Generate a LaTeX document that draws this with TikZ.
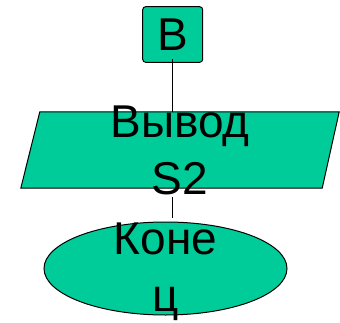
\documentclass[tikz,border=0pt]{standalone}
\usepackage{fontspec}
\setmainfont{Liberation Sans}
\definecolor{grn}{RGB}{0,204,153}
\usetikzlibrary{shapes.geometric}
\tikzset{
  blk/.style={draw=black, fill=grn, line width=1pt, inner sep=0pt},
  big/.style={font=\fontsize{46}{57}\selectfont, align=center}
}
\begin{document}
\begin{tikzpicture}[x=1pt,y=1pt]
        \useasboundingbox (0,0) rectangle (340,322);

        \node[blk, big, rounded corners=3pt, minimum width=60pt, minimum height=55.6pt] (B) at (172.7,287.5) {B};

        % frame of the output block, slanted by hand
        \node[inner sep=0pt, minimum width=318pt, minimum height=76pt] (out) at (180,172) {};
        \draw[blk] ([xshift=19pt]out.north west) -- (out.north east)
              -- ([xshift=-17pt]out.south east) -- (out.south west) -- cycle;
        \node[big] (outt) at (out.center) {Вывод\\S2};

        \node[blk, ellipse, minimum width=243pt, minimum height=93pt] (fin) at (165.5,53.5) {};
        \node[big, yshift=-3pt] (fint) at (fin.center) {Коне\\ц};

        \draw[line width=1pt] ([yshift=4pt]B.south) -- (B.south |- out.north);
        \draw[line width=1pt] ([yshift=-9pt]B.south |- out.south) -- ([yshift=4pt]B.south |- fin.north);
\end{tikzpicture}
\end{document}
